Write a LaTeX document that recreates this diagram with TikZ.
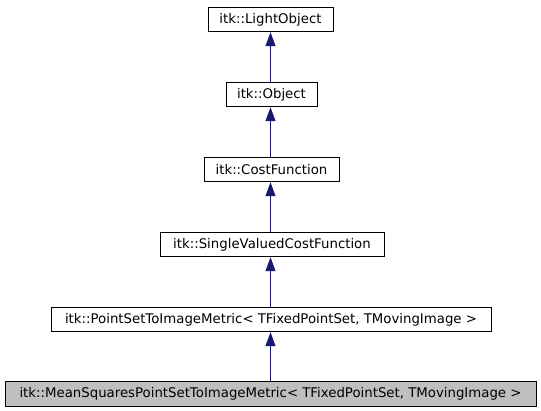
\documentclass[tikz,border=0pt]{standalone}
\usepackage{fontspec}
\setmainfont{DejaVu Sans}
\usetikzlibrary{arrows.meta}
\definecolor{edgeblue}{HTML}{191970}
\definecolor{hilite}{HTML}{BFBFBF}
\tikzset{
  cls/.style={draw=black, line width=1pt, inner sep=0pt, minimum height=24.5pt,
    font=\fontsize{13.3}{16}\selectfont, text=black},
  inh/.style={draw=edgeblue, line width=1pt, -{Triangle[length=14pt,width=10pt]}, color=edgeblue}
}
\begin{document}
\begin{tikzpicture}[x=1pt,y=-1pt]
\useasboundingbox (0,0) rectangle (541,411);
\node[cls, minimum width=125pt] (lo) at (270.5,19.5) {itk::LightObject};
\node[cls, minimum width=91pt] (ob) at (271.5,94.5) {itk::Object};
\node[cls, minimum width=135pt] (cf) at (271.5,169.5) {itk::CostFunction};
\node[cls, minimum width=224pt] (sv) at (272,244.5) {itk::SingleValuedCostFunction};
\node[cls, minimum width=440pt] (ps) at (271,319.5) {itk::PointSetToImageMetric< TFixedPointSet, TMovingImage >};
\node[cls, fill=hilite, minimum width=531pt] (ms) at (270.5,394) {itk::MeanSquaresPointSetToImageMetric< TFixedPointSet, TMovingImage >};
\draw[inh] (ob.north -| lo.south) -- (lo.south);
\draw[inh] (cf.north -| lo.south) -- (ob.south -| lo.south);
\draw[inh] (sv.north -| lo.south) -- (cf.south -| lo.south);
\draw[inh] (ps.north -| lo.south) -- (sv.south -| lo.south);
\draw[inh] (ms.north -| lo.south) -- (ps.south -| lo.south);
\end{tikzpicture}
\end{document}
